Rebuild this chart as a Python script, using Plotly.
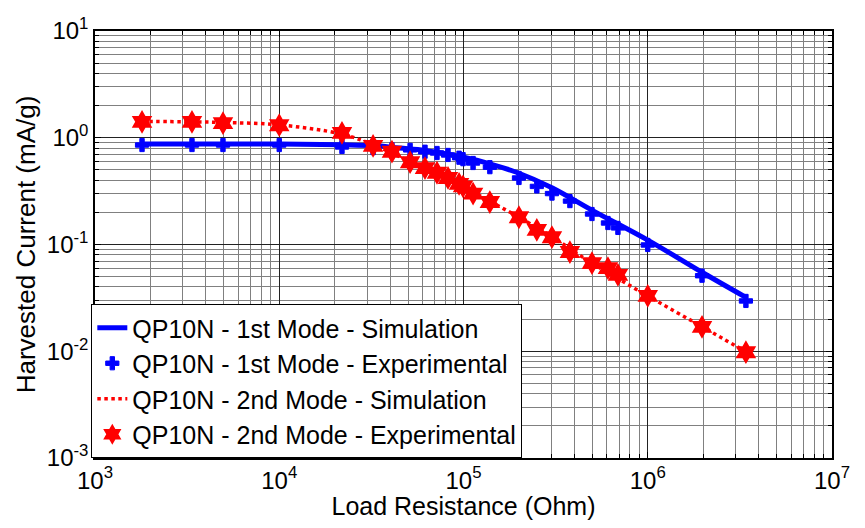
import plotly.graph_objects as go

# Load resistance values (Ohm) of the experimental points
r_exp = [1.8e3, 3.36e3, 4.95e3, 1.0e4, 2.19e4, 3.23e4, 4.09e4, 5.13e4, 6.18e4, 7.18e4,
         8.24e4, 9.46e4, 9.94e4, 1.127e5, 1.39e5, 2.0e5, 2.5e5, 3.02e5, 3.78e5, 4.98e5,
         6.08e5, 6.89e5, 1.0e6, 1.97e6, 3.41e6]
# 1st mode experimental (mA/g)
i1_exp = [0.855, 0.855, 0.855, 0.855, 0.82, 0.80, 0.78, 0.77, 0.74, 0.72,
          0.69, 0.65, 0.63, 0.58, 0.53, 0.42, 0.35, 0.30, 0.255, 0.193,
          0.159, 0.143, 0.099, 0.051, 0.0296]
# 2nd mode experimental (mA/g)
i2_exp = [1.41, 1.41, 1.37, 1.31, 1.11, 0.84, 0.74, 0.59, 0.52, 0.47,
          0.42, 0.37, 0.35, 0.30, 0.25, 0.18, 0.137, 0.117, 0.085, 0.067,
          0.060, 0.052, 0.033, 0.0169, 0.0098]

# Simulation curves
r_sim1 = [1.8e3, 1.0e4, 2.19e4, 3.23e4, 4.5e4, 6.18e4, 9.9e4, 1.39e5, 1.97e5, 3.02e5,
          4.97e5, 1.0e6, 1.97e6, 3.41e6]
i1_sim = [0.873, 0.873, 0.86, 0.845, 0.80, 0.76, 0.66, 0.57, 0.47, 0.34,
          0.21, 0.110, 0.055, 0.032]
r_sim2 = [1.8e3, 3.36e3, 4.95e3, 1.0e4, 2.19e4, 3.23e4, 5.13e4, 8.24e4, 1.127e5, 2.0e5,
          3.02e5, 4.98e5, 1.0e6, 1.97e6, 3.41e6]
i2_sim = [1.42, 1.41, 1.39, 1.32, 1.08, 0.86, 0.60, 0.42, 0.31, 0.18,
          0.118, 0.067, 0.033, 0.017, 0.0099]

# Tick labels
x_tickvals = [1e3, 1e4, 1e5, 1e6, 1e7]
x_ticktext = ["10<sup>3</sup>", "10<sup>4</sup>", "10<sup>5</sup>", "10<sup>6</sup>", "10<sup>7</sup>"]
y_tickvals = [1e-3, 1e-2, 1e-1, 1e0, 1e1]
y_ticktext = ["10<sup>-3</sup>", "10<sup>-2</sup>", "10<sup>-1</sup>", "10<sup>0</sup>", "10<sup>1</sup>"]

x_title = "Load Resistance (Ohm)"
y_title = "Harvested Current (mA/g)"

names = ["QP10N - 1st Mode - Simulation", "QP10N - 1st Mode - Experimental",
         "QP10N - 2nd Mode - Simulation", "QP10N - 2nd Mode - Experimental"]

# minor (2..9) positions for each decade
x_minor = [m * 10.0 ** e for e in range(3, 7) for m in range(2, 10)]
y_minor = [m * 10.0 ** e for e in range(-3, 1) for m in range(2, 10)]

FONT = "Liberation Sans, Arial, sans-serif"

fig = go.Figure()
fig.add_trace(go.Scatter(x=r_exp, y=i1_exp, mode="markers", name=names[1],
                         marker=dict(symbol="cross", size=11, color="#0000ff",
                                     line=dict(color="#0000ff", width=1)),
                         legendgroup="b", legendrank=2))
fig.add_trace(go.Scatter(x=r_sim1, y=i1_sim, mode="lines", name=names[0],
                         line=dict(color="#0000ff", width=5, shape="spline"),
                         legendgroup="a", legendrank=1))
fig.add_trace(go.Scatter(x=r_sim2, y=i2_sim, mode="lines", name=names[2],
                         line=dict(color="#ff0000", width=3.5, dash="dot", shape="spline"),
                         legendgroup="c", legendrank=3))
fig.add_trace(go.Scatter(x=r_exp, y=i2_exp, mode="markers", name=names[3],
                         marker=dict(symbol="hexagram", size=18, color="#ff0000"),
                         legendgroup="d", legendrank=4))

axis_common = dict(
    type="log", showline=True, linecolor="black", linewidth=1.5, mirror="allticks",
    ticks="inside", ticklen=6, tickcolor="black", automargin=False,
    showgrid=True, gridcolor="#222222", gridwidth=1, zeroline=False,
    tickfont=dict(family=FONT, size=24, color="black"),
)
minor_common = dict(ticks="inside", ticklen=4, tickcolor="black", showgrid=True,
                    gridcolor="#808080", gridwidth=1)

fig.update_xaxes(range=[3, 7], tickvals=x_tickvals, ticktext=x_ticktext,
                 minor=dict(tickvals=x_minor, **minor_common),
                 title=dict(text=x_title, standoff=10,
                            font=dict(family=FONT, size=25, color="black")),
                 **axis_common)
fig.update_yaxes(range=[-3, 1], tickvals=y_tickvals, ticktext=y_ticktext,
                 minor=dict(tickvals=y_minor, **minor_common),
                 title=dict(text=y_title, standoff=4,
                            font=dict(family=FONT, size=26, color="black")),
                 **axis_common)

fig.update_layout(
    width=849, height=512,
    margin=dict(l=87, r=25, t=23, b=62),
    paper_bgcolor="white", plot_bgcolor="white",
    font=dict(family=FONT, color="black"),
    legend=dict(x=-0.005, y=0, xanchor="left", yanchor="bottom",
                bgcolor="white", bordercolor="black", borderwidth=1,
                font=dict(family=FONT, size=25, color="black"),
                traceorder="normal", tracegroupgap=2, itemwidth=30),
)

fig.write_html("out.html")
